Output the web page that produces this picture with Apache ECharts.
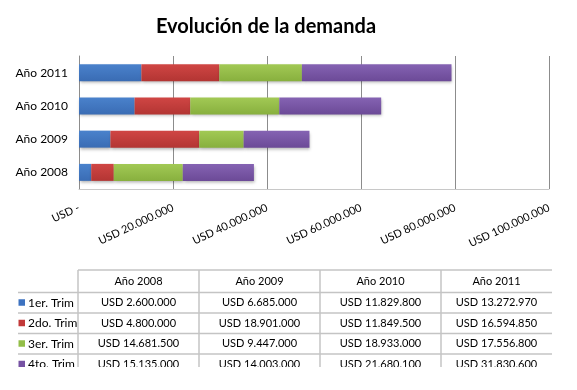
<!DOCTYPE html>
<html><head><meta charset="utf-8">
<script src="https://cdn.jsdelivr.net/npm/echarts@6/dist/echarts.min.js"></script>
<style>html,body{margin:0;padding:0;background:#fff}#c{width:577px;height:390px}</style>
</head><body><div id="c"></div>
<script>
const categories = ['Año 2008', 'Año 2009', 'Año 2010', 'Año 2011'];
const seriesNames = ['1er. Trim', '2do. Trim', '3er. Trim', '4to. Trim'];
const q1 = [2600000, 6685000, 11829800, 13272970];
const q2 = [4800000, 18901000, 11849500, 16594850];
const q3 = [14681500, 9447000, 18933000, 17556800];
const q4 = [15135000, 14003000, 21680100, 31830600];
const xTickValues = [0, 20000000, 40000000, 60000000, 80000000, 100000000];

const seriesData = [q1, q2, q3, q4];
const colors = [
  ['#4a82cc', '#3a6cb4'],
  ['#d04644', '#b33533'],
  ['#a2c955', '#88b03e'],
  ['#8563b3', '#6c4a97']
];
const solid = ['#3d72c0', '#c23a3a', '#93be48', '#7652a3'];
const FONT = 'Lato, "Open Sans", sans-serif';

function fmt(v) {
  if (v === 0) return 'USD -';
  return 'USD ' + String(Math.round(v)).replace(/\B(?=(\d{3})+(?!\d))/g, '.');
}

const chart = echarts.init(document.getElementById('c'), null, {renderer: 'canvas'});

// table layout
const colX = [78, 199, 320, 441, 552];
const headerTop = 270, headerBottom = 292.5, rowH = 20.5;
const els = [];
const lineStyle = {stroke: '#c4c4c4', lineWidth: 1.5};
els.push({type: 'line', shape: {x1: colX[0], y1: headerTop, x2: colX[4], y2: headerTop}, style: lineStyle});
for (let r = 0; r < 4; r++) {
  const y = headerBottom + r * rowH;
  els.push({type: 'line', shape: {x1: 18, y1: y, x2: colX[4], y2: y}, style: lineStyle});
}
for (let c = 0; c < 4; c++) {
  els.push({type: 'line', shape: {x1: colX[c], y1: headerTop, x2: colX[c], y2: 390}, style: lineStyle});
}
for (let c = 0; c < 4; c++) {
  els.push({type: 'text', x: (colX[c] + colX[c + 1]) / 2, y: (headerTop + headerBottom) / 2,
    style: {text: categories[c], font: '11px ' + FONT, fill: '#000', align: 'center', textAlign: 'center', verticalAlign: 'middle', textVerticalAlign: 'middle'}});
}
for (let r = 0; r < 4; r++) {
  const cy = headerBottom + r * rowH + rowH / 2;
  els.push({type: 'rect', shape: {x: 18.5, y: cy - 3.5, width: 6.5, height: 6.5}, style: {fill: solid[r]}});
  els.push({type: 'text', x: 28, y: cy,
    style: {text: seriesNames[r], font: '12px ' + FONT, fill: '#000', align: 'left', textAlign: 'left', verticalAlign: 'middle', textVerticalAlign: 'middle'}});
  for (let c = 0; c < 4; c++) {
    els.push({type: 'text', x: (colX[c] + colX[c + 1]) / 2, y: cy,
      style: {text: fmt(seriesData[r][c]), font: '11px ' + FONT, fill: '#000', align: 'center', textAlign: 'center', verticalAlign: 'middle', textVerticalAlign: 'middle'}});
  }
}
els.push({type: 'rect', z: 100, shape: {x: 0, y: 367, width: 577, height: 23}, style: {fill: '#fff'}});

const option = {
  backgroundColor: '#fff',
  animation: false,
  title: {
    text: 'Evolución de la demanda',
    left: 261, top: 12, textAlign: 'center',
    textStyle: {fontFamily: FONT, fontSize: 20, fontWeight: 'bold', color: '#000'}
  },
  grid: {left: 79, right: 28, top: 56, bottom: 201, containLabel: false},
  xAxis: {
    type: 'value', min: 0, max: 100000000, interval: 20000000,
    axisLine: {show: true, lineStyle: {color: '#c8c8c8', width: 1}},
    axisTick: {show: false},
    splitLine: {show: true, lineStyle: {color: '#8c8c8c', width: 1}},
    axisLabel: {
      rotate: 25, margin: 18, fontFamily: FONT, fontSize: 11, color: '#000',
      showMaxLabel: true, showMinLabel: true,
      customValues: xTickValues,
      formatter: v => fmt(v)
    }
  },
  yAxis: {
    type: 'category', data: categories,
    axisLine: {show: true, lineStyle: {color: '#8c8c8c'}},
    axisTick: {show: false},
    axisLabel: {fontFamily: FONT, fontSize: 12, color: '#000', margin: 11}
  },
  series: seriesNames.map((n, i) => ({
    name: n, type: 'bar', stack: 'total', barWidth: 17,
    data: seriesData[i],
    itemStyle: {
      color: new echarts.graphic.LinearGradient(0, 0, 0, 1, [
        {offset: 0, color: colors[i][0]}, {offset: 1, color: colors[i][1]}
      ]),
      shadowColor: 'rgba(0,0,0,0.3)', shadowBlur: 3, shadowOffsetX: 1, shadowOffsetY: 2
    }
  })),
  graphic: {elements: els}
};
chart.setOption(option);
</script></body></html>
